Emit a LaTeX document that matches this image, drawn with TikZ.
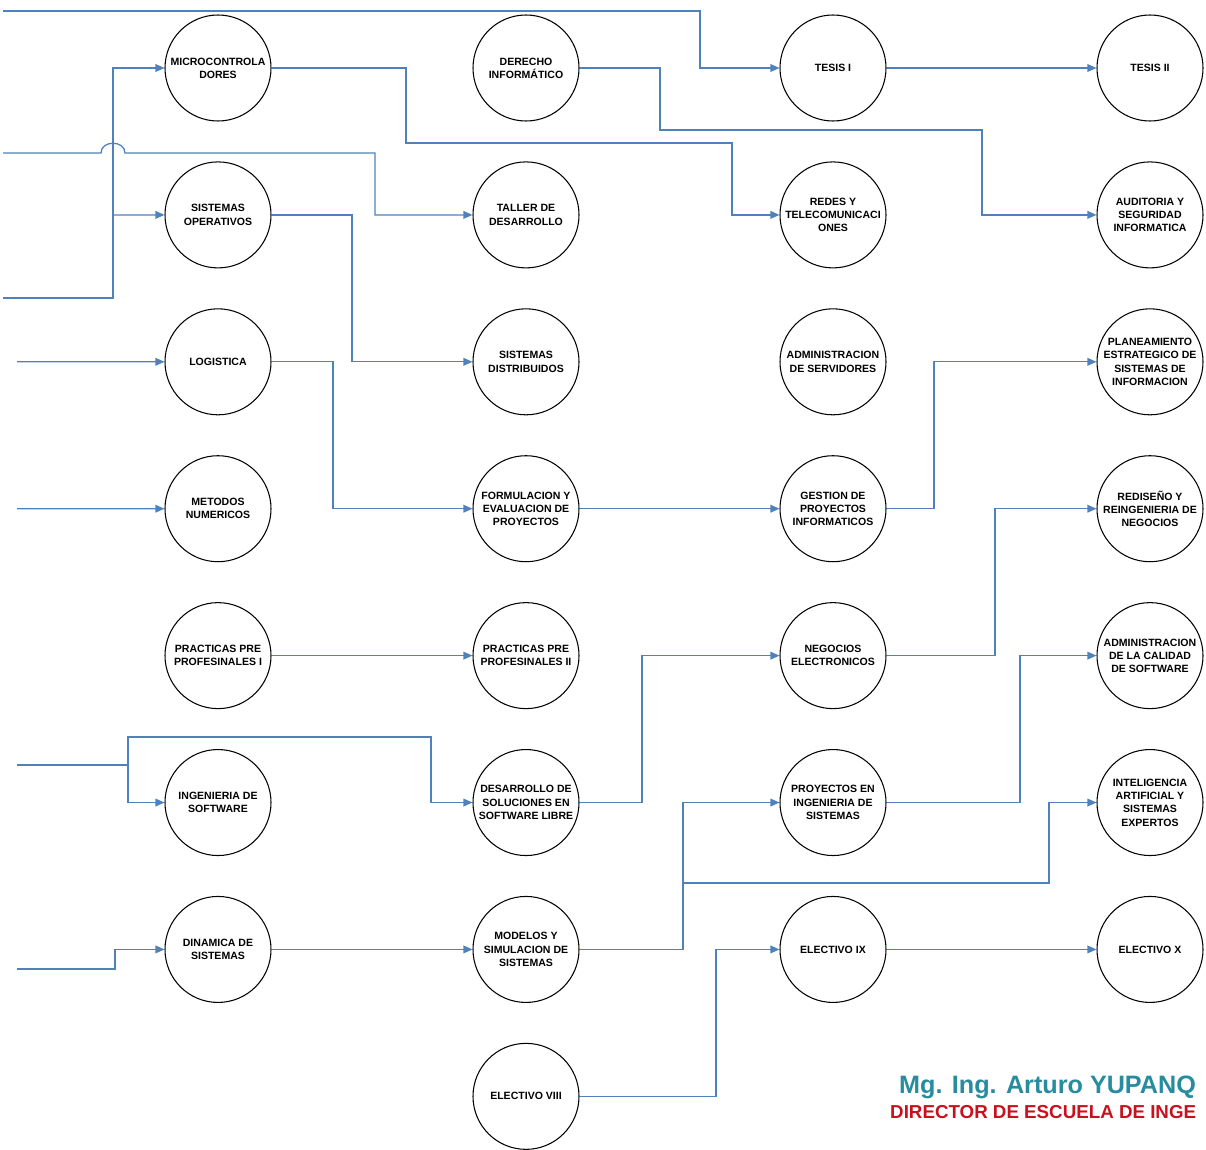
\documentclass[tikz,border=0pt]{standalone}
\usepackage{fontspec}
\setmainfont{Liberation Sans}
\usetikzlibrary{arrows.meta}
\definecolor{azul}{RGB}{79,129,189}
\definecolor{turquesa}{RGB}{38,140,158}
\definecolor{rojo}{RGB}{200,16,30}

\begin{document}
\begin{tikzpicture}[x=0.03cm, y=-0.03cm, node distance=4.407cm,
  curso/.style={circle, draw, line width=0.9pt, minimum size=3.18cm, inner sep=-8pt, align=center, font=\bfseries\fontsize{9}{11.3}\selectfont},
  flecha/.style={draw=azul, line width=1.1pt, -{Triangle[length=2.7mm,width=2.3mm]}},
  linea/.style={draw=azul, line width=1.1pt}]
\useasboundingbox (0,0) rectangle (1206,1149);
\clip (0,0) rectangle (1206,1149);

% columna 1
\node (micro) [curso] at (218,68) {MICROCONTROLA\\DORES};
\node (so) [curso, below of=micro] {SISTEMAS\\OPERATIVOS};
\node (logistica) [curso, below of=so] {LOGISTICA};
\node (metodos) [curso, below of=logistica] {METODOS\\NUMERICOS};
\node (pp1) [curso, below of=metodos] {PRACTICAS PRE\\PROFESINALES I};
\node (ingsoft) [curso, below of=pp1] {INGENIERIA DE\\SOFTWARE};
\node (dinamica) [curso, below of=ingsoft] {DINAMICA DE\\SISTEMAS};

% columna 2
\node (derecho) [curso] at (526,68) {DERECHO\\INFORMÁTICO};
\node (taller) [curso, below of=derecho] {TALLER DE\\DESARROLLO};
\node (distrib) [curso, below of=taller] {SISTEMAS\\DISTRIBUIDOS};
\node (formula) [curso, below of=distrib] {FORMULACION Y\\EVALUACION DE\\PROYECTOS};
\node (pp2) [curso, below of=formula] {PRACTICAS PRE\\PROFESINALES II};
\node (libre) [curso, below of=pp2] {DESARROLLO DE\\SOLUCIONES EN\\SOFTWARE LIBRE};
\node (modelos) [curso, below of=libre] {MODELOS Y\\SIMULACION DE\\SISTEMAS};
\node (elect8) [curso, below of=modelos] {ELECTIVO VIII};

% columna 3
\node (tesis1) [curso] at (833,68) {TESIS I};
\node (redes) [curso, below of=tesis1] {REDES Y\\TELECOMUNICACI\\ONES};
\node (servidores) [curso, below of=redes] {ADMINISTRACION\\DE SERVIDORES};
\node (gestion) [curso, below of=servidores] {GESTION DE\\PROYECTOS\\INFORMATICOS};
\node (negocios) [curso, below of=gestion] {NEGOCIOS\\ELECTRONICOS};
\node (proying) [curso, below of=negocios] {PROYECTOS EN\\INGENIERIA DE\\SISTEMAS};
\node (elect9) [curso, below of=proying] {ELECTIVO IX};

% columna 4
\node (tesis2) [curso] at (1150,68) {TESIS II};
\node (auditoria) [curso, below of=tesis2] {AUDITORIA Y\\SEGURIDAD\\INFORMATICA};
\node (planea) [curso, below of=auditoria] {PLANEAMIENTO\\ESTRATEGICO DE\\SISTEMAS DE\\INFORMACION};
\node (rediseno) [curso, below of=planea] {REDISEÑO Y\\REINGENIERIA DE\\NEGOCIOS};
\node (calidad) [curso, below of=rediseno] {ADMINISTRACION\\DE LA CALIDAD\\DE SOFTWARE};
\node (ia) [curso, below of=calidad] {INTELIGENCIA\\ARTIFICIAL Y\\SISTEMAS\\EXPERTOS};
\node (elect10) [curso, below of=ia] {ELECTIVO X};

% entradas y ramas
\coordinate (e0) at (3,11);
\coordinate (e1) at (3,153);
\coordinate (e2) at (3,298);
\coordinate (e3) at (17,361.8);
\coordinate (e4) at (17,508.7);
\coordinate (e5) at (17,765);
\coordinate (e6) at (17,969);
\coordinate (r1) at (113,214.9);
\coordinate (r2) at (128,765);
\coordinate (r3) at (683,883);

\draw[flecha] (e0) -- (700,11) |- (tesis1.west);
\draw[flecha] (e1) -- (101,153) .. controls (101,140) and (125,140) .. (125,153) -- (375,153) |- (taller.west);
\draw[flecha] (e2) -| (r1) |- (micro.west);
\draw[flecha] (r1) -- (so.west);
\draw[flecha] (micro.east) -| (406,143) -- (732,143) |- (redes.west);
\draw[flecha] (derecho.east) -| (660,130) -- (982,130) |- (auditoria.west);
\draw[flecha] (tesis1) -- (tesis2);
\draw[flecha] (so.east) -| (352,290) |- (distrib.west);
\draw[flecha] (e3) -- (logistica);
\draw[flecha] (logistica.east) -| (333,440) |- (formula.west);
\draw[flecha] (e4) -- (metodos);
\draw[flecha] (formula) -- (gestion);
\draw[flecha] (gestion.east) -| (934,440) |- (planea.west);
\draw[flecha] (pp1) -- (pp2);
\draw[linea] (e5) -- (r2);
\draw[flecha] (r2) |- (ingsoft.west);
\draw[flecha] (r2) |- (431,737) |- (libre.west);
\draw[flecha] (libre.east) -| (642,730) |- (negocios.west);
\draw[flecha] (negocios.east) -| (995,580) |- (rediseno.west);
\draw[flecha] (proying.east) -| (1020,730) |- (calidad.west);
\draw[flecha] (e6) -| (115,960) |- (dinamica.west);
\draw[flecha] (dinamica) -- (modelos);
\draw[flecha] (modelos.east) -| (r3) |- (proying.west);
\draw[flecha] (r3) -- (1049,883) |- (ia.west);
\draw[flecha] (elect8.east) -| (716,1000) |- (elect9.west);
\draw[flecha] (elect9) -- (elect10);

% firma
\node (firma) [anchor=base west, inner sep=0pt, text=turquesa, font=\bfseries\fontsize{21.5}{25}\selectfont] at (899,1093) {Mg. Ing. Arturo YUPANQ};
\node (cargo) [anchor=base west, inner sep=0pt, text=rojo, font=\bfseries\fontsize{16}{19}\selectfont] at (890,1118) {DIRECTOR DE ESCUELA DE INGE};
\end{tikzpicture}
\end{document}
